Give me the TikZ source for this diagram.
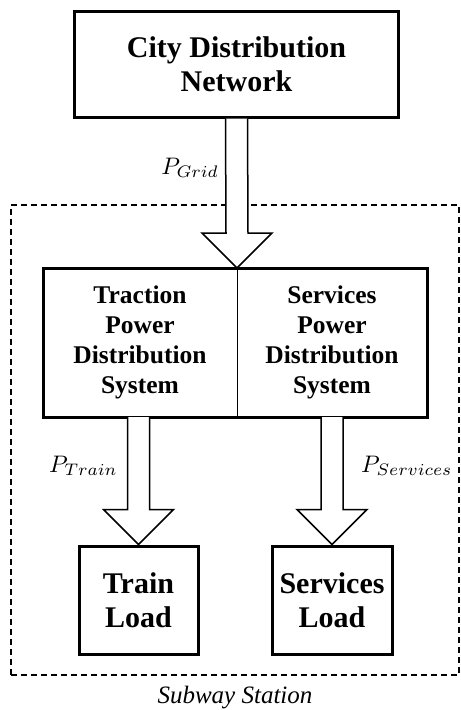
\documentclass[tikz,border=0pt]{standalone}
\usepackage{fontspec}
\setmainfont{Liberation Serif}
\usetikzlibrary{calc}
\tikzset{
    x=1bp, y=-1bp,
    box/.style={draw, line width=3bp, minimum width=120bp, minimum height=108bp,
                align=center, font=\fontsize{30bp}{34bp}\selectfont\bfseries},
    half/.style={minimum width=190bp, minimum height=149bp, inner sep=0pt,
                 align=center, font=\fontsize{25.5bp}{30bp}\selectfont\bfseries},
    flow/.style={draw, line width=1.5bp, fill=white, line join=miter},
    frame/.style={draw, dashed, dash pattern=on 6bp off 4bp, line width=1.5bp,
                  minimum width=448bp, minimum height=470bp},
    plbl/.style={inner sep=0pt},
}
\newcommand{\plabel}[1]{\scalebox{2.4}{$#1$}}
% hollow power arrow from #1 (top) down to #2 (tip)
\newcommand{\powerarrow}[2]{%
    \draw[flow] ($(#1)+(-11,0)$) -- ($(#2)+(-11,-35)$) -- ($(#2)+(-35,-35)$)
        -- (#2) -- ($(#2)+(35,-35)$) -- ($(#2)+(11,-35)$) -- ($(#1)+(11,0)$);
}

\begin{document}
\begin{tikzpicture}
    \useasboundingbox (0,0) rectangle (461,710);

    \node[frame] (station) at (235,440) {};
    \node[font=\fontsize{25bp}{28bp}\selectfont\itshape, anchor=center]
        (stationlbl) at (235,698) {Subway Station};

    \node[box, minimum width=323bp, minimum height=105bp] (city) at (236.5,64.5)
        {City Distribution\\Network};

    \node[half] (traction) at (140,342.5) {Traction\\Power\\Distribution\\System};
    \node[half] (services) at (332,342.5) {Services\\Power\\Distribution\\System};
    \draw[line width=3bp] (43,268) rectangle (427,417);
    \draw[line width=1bp] (237,268) -- (237,417);

    \node[box, minimum width=119bp] (train) at (138.5,600) {Train\\Load};
    \node[box] (servload) at (332,600) {Services\\Load};

    \coordinate (gridtip) at (237,268);
    \powerarrow{city.south}{gridtip}
    \powerarrow{train.north |- 0,417}{train.north}
    \powerarrow{servload.north |- 0,417}{servload.north}

    \node[plbl, anchor=east] (pgrid) at (219,168) {\plabel{P_{Grid}}};
    \node[plbl, anchor=east] (ptrain) at (118,466) {\plabel{P_{Train}}};
    \node[plbl, anchor=west] (pserv) at (361,466) {\plabel{P_{Services}}};
\end{tikzpicture}
\end{document}
